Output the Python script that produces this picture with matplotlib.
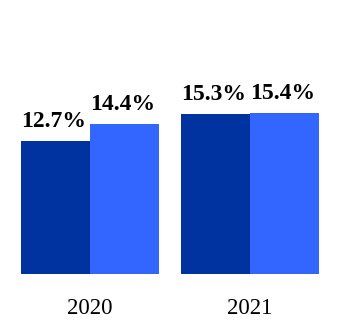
import matplotlib.pyplot as plt
import numpy as np

years = ["2020", "2021"]
series_a = [12.7, 15.3]
series_b = [14.4, 15.4]
labels_a = ["12.7%", "15.3%"]
labels_b = ["14.4%", "15.4%"]

dark = "#0033A0"
light = "#3366FF"

plt.rcParams['font.family'] = ['Liberation Serif', 'DejaVu Serif']

fig = plt.figure(figsize=(3.4, 3.3), dpi=100)
ax = fig.add_axes([0, 56 / 330, 1, 274 / 330])

x = np.arange(len(years))
w = 69 / 160
ba = ax.bar(x - w / 2, series_a, w, color=dark)
bb = ax.bar(x + w / 2, series_b, w, color=light)

for bars, labs in ((ba, labels_a), (bb, labels_b)):
    for r, lab in zip(bars, labs):
        ax.annotate(lab, (r.get_x() + r.get_width() / 2, r.get_height()),
                    xytext=(-1.5, 10), textcoords="offset points",
                    ha="center", va="baseline", fontsize=17, fontweight="bold")

ax.set_xlim(-90 / 160, 250 / 160)
ax.set_ylim(0, 274 / 10.45)
ax.set_xticks(x)
ax.set_xticklabels(years, fontsize=16.5)
ax.tick_params(axis="x", length=0, pad=17)
ax.set_yticks([])
for s in ax.spines.values():
    s.set_visible(False)

fig.savefig("out.png", dpi=100)
